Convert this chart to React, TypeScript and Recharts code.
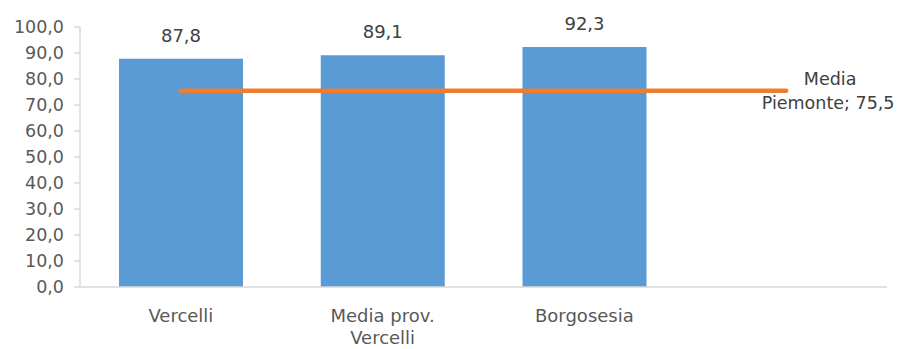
import { ComposedChart, Bar, Line, XAxis, YAxis, LabelList, Text } from "recharts";

// categories (last slot is empty so the Piemonte line runs past the bars)
const categories = ["Vercelli", "Media prov. Vercelli", "Borgosesia", ""];
const values = [87.8, 89.1, 92.3, null];
const piemonte = [75.5, 75.5, 75.5, 75.5];
const yTicks = [0, 10, 20, 30, 40, 50, 60, 70, 80, 90, 100];

const data = categories.map((name, i) => ({
  name,
  value: values[i],
  piemonte: piemonte[i],
}));

const FONT = "'DejaVu Sans', sans-serif";
const FS = 17.5;
const fmt = (v: number) => v.toFixed(1).replace(".", ",");

const CategoryTick = (props: any) => {
  const { x, y, payload } = props;
  return (
    <Text
      x={x}
      y={y + 14}
      width={125}
      textAnchor="middle"
      verticalAnchor="start"
      fontFamily={FONT}
      fontSize={18}
      fill="#595959"
      lineHeight={22}
    >
      {payload.value}
    </Text>
  );
};

// label only at the right end of the Piemonte line
const PiemonteLabel = (props: any) => {
  const { x, y, index, value } = props;
  if (index !== piemonte.length - 1) return null;
  return (
    <text fontFamily={FONT} fontSize={FS} fill="#404040" textAnchor="middle">
      <tspan x={x + 44} y={y - 6}>Media</tspan>
      <tspan x={x + 42} y={y + 18}>{`Piemonte; ${fmt(value)}`}</tspan>
    </text>
  );
};

export default function App() {
  return (
    <div style={{ position: "absolute", left: 0, top: 0, background: "#fff" }}>
      <ComposedChart
        width={910}
        height={349}
        data={data}
        margin={{ top: 27, right: 23, bottom: 0, left: 0 }}
      >
        <XAxis
          dataKey="name"
          tickLine={false}
          axisLine={{ stroke: "#d9d9d9", strokeWidth: 1.5 }}
          tick={<CategoryTick />}
          height={62}
          interval={0}
        />
        <YAxis
          domain={[0, 100]}
          ticks={yTicks}
          interval={0}
          tickFormatter={fmt}
          width={80}
          tickSize={6}
          tickMargin={10}
          axisLine={{ stroke: "#d9d9d9", strokeWidth: 1.5 }}
          tickLine={{ stroke: "#d9d9d9", strokeWidth: 1.5 }}
          tick={{ fontFamily: FONT, fontSize: FS, fill: "#595959" }}
        />
        <Bar dataKey="value" fill="#5B9BD5" barSize={124} isAnimationActive={false}>
          <LabelList
            dataKey="value"
            position="top"
            offset={17}
            formatter={(v: any) => (v == null ? "" : fmt(v))}
            style={{ fontFamily: FONT, fontSize: 18, fill: "#404040" }}
          />
        </Bar>
        <Line
          dataKey="piemonte"
          stroke="#ED7D31"
          strokeWidth={4.5}
          strokeLinecap="round"
          dot={false}
          isAnimationActive={false}
        >
          <LabelList dataKey="piemonte" content={<PiemonteLabel />} />
        </Line>
      </ComposedChart>
    </div>
  );
}
